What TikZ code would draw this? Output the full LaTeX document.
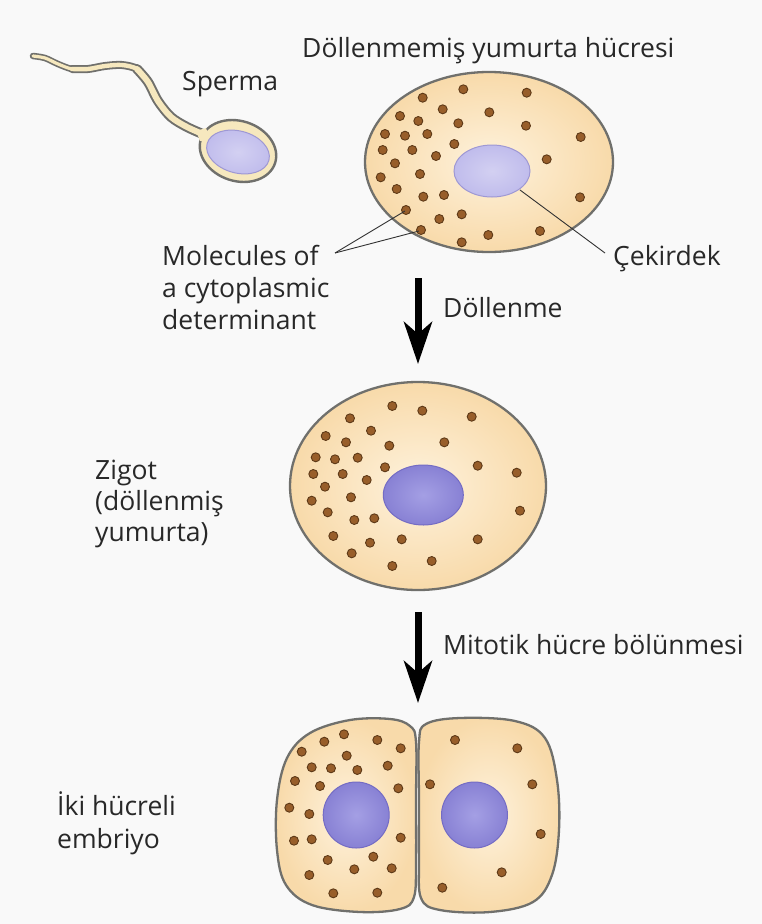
\documentclass[tikz,border=0pt]{standalone}
\usepackage{fontspec}
\setmainfont{Open Sans}
\usetikzlibrary{arrows.meta}

\definecolor{bg}{RGB}{249,249,249}
\definecolor{cellin}{RGB}{254,242,220}
\definecolor{cellout}{RGB}{248,218,170}
\definecolor{cellline}{RGB}{112,112,108}
\definecolor{tailfill}{RGB}{246,232,190}
\definecolor{nucA}{RGB}{192,188,236}
\definecolor{nucAedge}{RGB}{158,152,212}
\definecolor{nucB}{RGB}{136,129,212}
\definecolor{nucBin}{RGB}{164,159,228}
\definecolor{nucBedge}{RGB}{116,108,196}
\definecolor{granule}{RGB}{152,94,42}
\definecolor{granuleedge}{RGB}{94,58,24}
\definecolor{txt}{RGB}{40,40,40}
\definecolor{leader}{RGB}{50,50,50}

\begin{document}
\begin{tikzpicture}[x=1pt,y=-1pt,
  lbl/.style={anchor=base west, inner sep=0pt, font=\fontsize{26.5}{32}\selectfont, text=txt},
  cellbody/.style={draw=cellline, line width=2.3pt, inner color=cellin, outer color=cellout},
  pale nucleus/.style={draw=nucAedge, line width=1pt, inner color=nucA!70!white, outer color=nucA},
  dark nucleus/.style={draw=nucBedge, line width=1pt, inner color=nucBin, outer color=nucB},
  granulestyle/.style={fill=granule, draw=granuleedge, line width=0.9pt},
  leaderline/.style={draw=leader, line width=0.9pt},
  bigarrow/.style={line width=7pt, -{Stealth[length=42pt, width=28pt, inset=12pt]}},
  tailedge/.style={cellline, line cap=round, line join=round},
  tailcore/.style={tailfill, line cap=round, line join=round}
]
% canvas
\fill[bg] (0,0) rectangle (762,924);
\useasboundingbox (0,0) rectangle (762,924);

% ---------------- sperm ----------------
% the tail thickens towards the head: three overlapping stretches
\draw[tailedge, line width=6.5pt] plot[smooth] coordinates {(33,56) (45,58) (58,64) (72,69) (88,69)};
\draw[tailedge, line width=8pt] plot[smooth] coordinates {(72,69) (88,69) (105,66) (122,65) (137,69) (148,82)};
\draw[tailedge, line width=10pt] plot[smooth] coordinates {(137,69) (148,82) (158,101) (171,117) (187,127) (205,135)};
\draw[tailcore, line width=3.2pt] plot[smooth] coordinates {(33,56) (45,58) (58,64) (72,69) (88,69)};
\draw[tailcore, line width=4.4pt] plot[smooth] coordinates {(72,69) (88,69) (105,66) (122,65) (137,69) (148,82)};
\draw[tailcore, line width=6pt] plot[smooth] coordinates {(137,69) (148,82) (158,101) (171,117) (187,127) (205,135)};
\draw[cellline, line width=2.4pt, fill=tailfill, rotate around={-18:(238,151)}] (238,151) ellipse[x radius=39, y radius=30];
\fill[tailfill] (196,131) -- (206,128) -- (210,140) -- (200,141) -- cycle;
\draw[pale nucleus, rotate around={-15:(238,152)}] (238,152) ellipse[x radius=32, y radius=21];
\node[lbl] (sperma) at (182,90) {Sperma};

% ---------------- unfertilised egg ----------------
\node[lbl] (title) at (302,57) {Döllenmemiş yumurta hücresi};
\path[cellbody] (489,162) ellipse[x radius=124, y radius=90];
\path[pale nucleus] (492,171) ellipse[x radius=38, y radius=26];
\coordinate (nucA) at (520,190);
\foreach \x/\y in {463.3/89.3, 526.7/92.7, 422.7/97.7, 442.7/109.3, 489.3/112.3, 400/116,
  418.3/121, 458.3/123.3, 526/125.7, 385/134, 405/135.7, 427.3/134, 454.3/144, 580.7/137,
  382.7/150, 412.3/150, 436/156, 546.7/159.3, 395/163.3, 420/174, 380.7/177.3, 396.7/189,
  423.3/196.7, 444/195, 580/197.3, 406/210, 439.3/219, 461.7/214.3, 421/230, 540/231,
  488.3/235, 461.7/242.3}
  \path[granulestyle] (\x,\y) circle[radius=4.5];
\coordinate (molA) at (405,211);
\coordinate (molB) at (419,231);

% labels around the egg
\node[lbl] (mol1) at (162,265) {Molecules of};
\node[lbl] (mol2) at (162,297) {a cytoplasmic};
\node[lbl] (mol3) at (162,329) {determinant};
\coordinate (molJ) at (335,253);
\draw[leaderline] (molJ) -- (molA);
\draw[leaderline] (molJ) -- (molB);
\node[lbl] (cek) at (613,265) {Çekirdek};
\coordinate (cekJ) at (605,253);
\draw[leaderline] (nucA) -- (cekJ);

% ---------------- fertilisation arrow ----------------
\coordinate (a1s) at (418,278);
\coordinate (a1e) at (418,364);
\draw[bigarrow] (a1s) -- (a1e);
\node[lbl] (dol) at (443,317) {Döllenme};

% ---------------- zygote ----------------
\path[cellbody] (418,486) ellipse[x radius=128, y radius=104];
\path[dark nucleus] (423.3,495) ellipse[x radius=40, y radius=30];
\foreach \x/\y in {392.3/406, 422.3/410.7, 350/418.3, 471.7/416.7, 371/430.7, 325.7/436,
  346/442.3, 389.3/445.7, 444.3/442.3, 315.7/457.3, 335/459.3, 357.7/457.7, 385/467.3,
  477.7/465.7, 516.7/472.7, 313.3/474, 342.7/474, 366.7/480, 325/486.7, 351/497.3,
  311.7/500.7, 520/510.7, 327.7/512.3, 354.3/520, 374.3/518.3, 333.3/536, 370/542.7,
  401.7/539.3, 477.7/539.3, 351.7/553.3, 431.7/561, 392.3/566}
  \path[granulestyle] (\x,\y) circle[radius=4.5];
\node[lbl] (zig1) at (95,479) {Zigot};
\node[lbl] (zig2) at (95,510) {(döllenmiş};
\node[lbl] (zig3) at (95,541) {yumurta)};

% ---------------- cleavage arrow ----------------
\coordinate (a2s) at (418,612);
\coordinate (a2e) at (418,703);
\draw[bigarrow] (a2s) -- (a2e);
\node[lbl] (mit) at (443,654) {Mitotik hücre bölünmesi};

% ---------------- two-cell embryo ----------------
\path[cellbody] plot[smooth cycle, tension=0.6] coordinates {(416,742) (410,726) (390,719) (350,720) (310,733) (287,758) (277,800) (277,850) (286,885) (312,905) (360,912) (400,909) (414,897) (416,860) (416,800)};
\path[cellbody] plot[smooth cycle, tension=0.6] coordinates {(419,800) (419,742) (426,724) (460,718) (515,721) (545,738) (557,780) (559,830) (552,875) (533,902) (490,912) (440,910) (421,898) (419,860)};
\path[dark nucleus] (356.2,815) circle[radius=33];
\path[dark nucleus] (474.5,815) circle[radius=33];
\foreach \x/\y in {344/734.3, 324.3/741.7, 377.3/740, 400.7/748.3, 301.7/751.7, 346.7/755.7,
  311.7/767.3, 331/768.3, 357.3/770, 387.7/765.7, 295/781, 320/786, 398.3/788.3,
  289.3/807.7, 309.3/814, 294/840.7, 311.7/839.3, 400.7/837.7, 327.7/860, 373.3/856.7,
  354.3/869.3, 391.7/868.3, 309.3/875, 333.3/893.3, 377.3/892.7,
  455/740, 517.3/748.3, 430/784.3, 532.3/784.3, 540.7/834, 501.7/872.3, 442.3/887.7}
  \path[granulestyle] (\x,\y) circle[radius=4.5];
\node[lbl] (iki1) at (57,815) {İki hücreli};
\node[lbl] (iki2) at (57,848) {embriyo};
\end{tikzpicture}
\end{document}
